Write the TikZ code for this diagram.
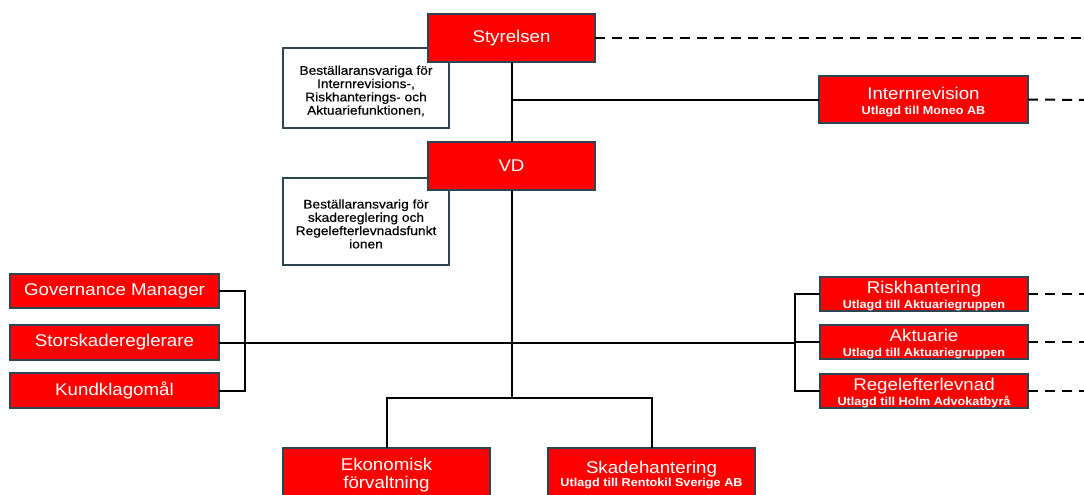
\documentclass[tikz,border=0pt]{standalone}
\usepackage{fontspec}
\setmainfont{Liberation Sans}[FakeStretch=1.1]
\newfontfamily\notefont{Liberation Sans}[FakeStretch=1.1,FakeBold=0.4]
\usetikzlibrary{positioning}

\definecolor{boxred}{RGB}{255,0,0}
\definecolor{boxedge}{RGB}{43,70,80}

\newcommand{\ttlfont}{\fontsize{17}{15}\selectfont}
\newcommand{\subfont}{\fontsize{11.5}{13}\selectfont\bfseries}
\newcommand{\lift}[1]{\rule{0pt}{#1}}

\begin{document}
\begin{tikzpicture}[
    x=1pt, y=-1pt,
    node distance=15pt,
    redbox/.style={rectangle, draw=boxedge, fill=boxred, line width=2.5pt,
        text=white, align=center, inner sep=0pt, outer sep=0pt, font=\ttlfont},
    notebox/.style={rectangle, draw=boxedge, fill=white, line width=2pt,
        text=black, align=center, inner sep=0pt, outer sep=0pt,
        minimum width=166pt, font=\notefont\fontsize{12.5}{13.3}\selectfont},
    conn/.style={draw=black, line width=2pt},
    dashconn/.style={draw=black, line width=2pt, dash pattern=on 10pt off 7pt}
    ]
        \clip (0,0) rectangle (1084,495);
        \useasboundingbox (0,0) rectangle (1084,495);

        %Notes (behind)
        \node[notebox, minimum height=80pt]
            (note1) at (366,88)     {\lift{15pt}Beställaransvariga för\\Internrevisions-,\\Riskhanterings- och\\Aktuariefunktionen,};
        \node[notebox, minimum height=87pt]
            (note2) at (366,221.5)  {\lift{14pt}Beställaransvarig för\\skadereglering och\\Regelefterlevnadsfunkt\\ionen};

        %Nodes
        \node[redbox, minimum width=167pt, minimum height=48pt]
            (styr)  at (511.5,38)   {Styrelsen};
        \node[redbox, minimum width=167pt, minimum height=48pt]
            (vd)    [below=80pt of styr]   {VD};
        \node[redbox, minimum width=209pt, minimum height=47pt]
            (intrev) at (923.5,99.5) {\lift{18pt}Internrevision\\{\subfont Utlagd till Moneo AB}};

        \node[redbox, minimum width=209pt, minimum height=34pt]
            (gov)   at (114.5,291)  {Governance Manager};
        \node[redbox, minimum width=209pt, minimum height=35pt]
            (stor)  [below=17pt of gov]    {Storskadereglerare};
        \node[redbox, minimum width=209pt, minimum height=35pt]
            (kund)  [below=13pt of stor]   {Kundklagomål};

        \node[redbox, minimum width=208pt, minimum height=34pt]
            (risk)  at (924,294)    {\lift{16pt}Riskhantering\\{\subfont Utlagd till Aktuariegruppen}};
        \node[redbox, minimum width=208pt, minimum height=34pt]
            (akt)   [below=14pt of risk]   {\lift{16pt}Aktuarie\\{\subfont Utlagd till Aktuariegruppen}};
        \node[redbox, minimum width=208pt, minimum height=34pt]
            (regel) [below=15pt of akt]    {\lift{16pt}Regelefterlevnad\\{\subfont Utlagd till Holm Advokatbyrå}};

        \node[redbox, minimum width=207pt, minimum height=54pt, font=\fontsize{17}{18}\selectfont]
            (ekon)  at (386.5,475)  {Ekonomisk\\förvaltning};
        \node[redbox, minimum width=207pt, minimum height=54pt, font=\fontsize{17}{13}\selectfont]
            (skada) at (651.5,475)  {Skadehantering\\{\subfont Utlagd till Rentokil Sverige AB}};

        %Coordinates
        \coordinate (edge1) at (1090,38);
        \coordinate (edge2) at (1090,100);
        \coordinate (lbar)  at (245,0 |- stor.east);
        \coordinate (rbar)  at (795,0 |- stor.east);
        \coordinate (split) at (511.5,398);

        %Lines
        \draw[conn] (styr.south) -- (vd.north);
        \draw[conn] (styr.south |- intrev.west) -- (intrev.west);
        \draw[conn] (vd.south) -- (split);
        \draw[conn] (stor.east) -- (rbar);
        \draw[conn] (gov.east) -| (lbar) |- (kund.east);
        \draw[conn] (risk.west) -| (rbar) |- (regel.west);
        \draw[conn] (rbar) -- (rbar |- akt.west) -- (akt.west);
        \draw[conn] (ekon.north) |- (split) -| (skada.north);

        %Dashed lines
        \draw[dashconn] (styr.east) -- (edge1);
        \draw[dashconn] (intrev.east) -- (edge2);
        \draw[dashconn] (risk.east) -- (risk.east -| edge1);
        \draw[dashconn] (akt.east) -- (akt.east -| edge1);
        \draw[dashconn] (regel.east) -- (regel.east -| edge1);
\end{tikzpicture}
\end{document}
